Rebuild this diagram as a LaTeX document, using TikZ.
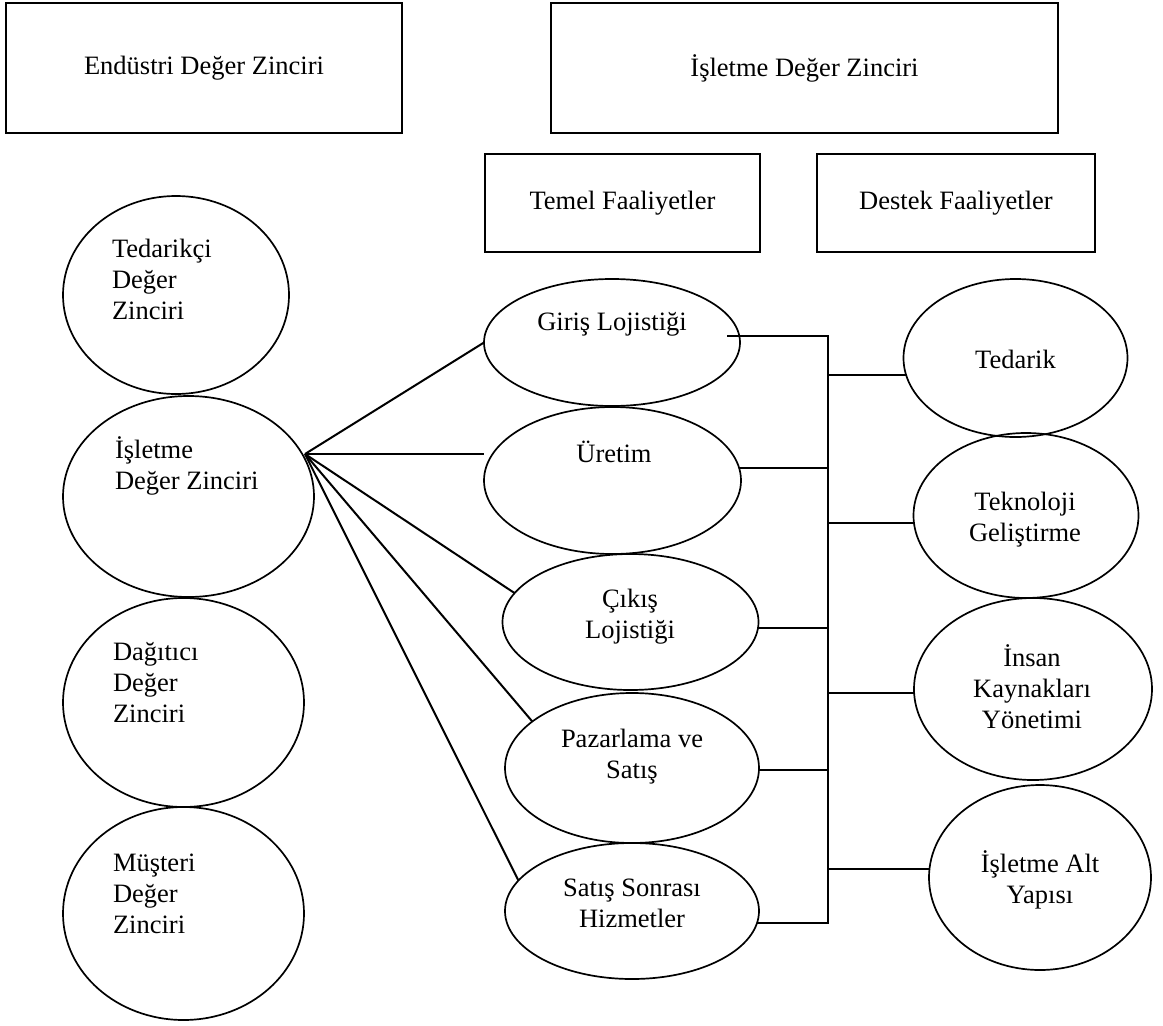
\documentclass[tikz,border=0pt]{standalone}
\usepackage{fontspec}
\setmainfont{Liberation Serif}
\usetikzlibrary{shapes.geometric}
\begin{document}
\begin{tikzpicture}[x=1pt,y=-1pt,
  ell/.style={draw, ellipse, inner sep=0pt, outer sep=0pt, line width=1.7pt},
  boxn/.style={draw, rectangle, inner sep=0pt, outer sep=0pt, line width=2pt, font=\fontsize{26.5}{31}\selectfont},
  txt/.style={inner sep=0pt, outer sep=0pt, font=\fontsize{26.5}{31}\selectfont},
  conn/.style={line width=2pt}]
\useasboundingbox[fill=white] (0,0) rectangle (1163,1026);

% top boxes
\node[boxn, minimum width=396pt, minimum height=130pt] (endbox) at (204,68) {Endüstri Değer Zinciri};
\node[boxn, minimum width=507pt, minimum height=130pt] (isbox) at (804.5,68) {İşletme Değer Zinciri};
\node[boxn, minimum width=275pt, minimum height=98pt] (temel) at (622.5,203) {Temel Faaliyetler};
\node[boxn, minimum width=278pt, minimum height=98pt] (destek) at (956,203) {Destek Faaliyetler};

% left ellipses
\node[ell, minimum width=226pt, minimum height=198pt] (ted) at (176,295) {};
\node[ell, minimum width=251pt, minimum height=201pt] (isv) at (188.5,496.5) {};
\node[ell, minimum width=241pt, minimum height=209pt] (dag) at (183.5,702.5) {};
\node[ell, minimum width=241pt, minimum height=213pt] (mus) at (183.5,913.5) {};
% (base anchor of a multi-line node = baseline of its last line)
\node[txt, anchor=base west, align=left] (tedt) at (112,319) {Tedarikçi\\Değer\\Zinciri};
\node[txt, anchor=base west, align=left] (isvt) at (115,489) {İşletme\\Değer Zinciri};
\node[txt, anchor=base west, align=left] (dagt) at (113,722) {Dağıtıcı\\Değer\\Zinciri};
\node[txt, anchor=base west, align=left] (must) at (113,933) {Müşteri\\Değer\\Zinciri};

% middle ellipses
\node[ell, minimum width=256pt, minimum height=127pt] (giris) at (612,342.5) {};
\node[ell, minimum width=257pt, minimum height=147pt] (uretim) at (612.5,480.5) {};
\node[ell, minimum width=256pt, minimum height=136pt] (cikis) at (630.5,622) {};
\node[ell, minimum width=254pt, minimum height=150pt] (pazar) at (632,768) {};
\node[ell, minimum width=254pt, minimum height=136pt] (satis) at (632,911) {};
\node[txt, anchor=base, align=center] (girist) at (612,330) {Giriş Lojistiği};
\node[txt, anchor=base, align=center] (uretimt) at (614,462) {Üretim};
\node[txt, anchor=base, align=center] (cikist) at (630,638) {Çıkış\\Lojistiği};
\node[txt, anchor=base, align=center] (pazart) at (632,778) {Pazarlama ve\\Satış};
\node[txt, anchor=base, align=center] (satist) at (632,927) {Satış Sonrası\\Hizmetler};

% right ellipses
\node[ell, minimum width=224pt, minimum height=158pt] (tedarik) at (1015.5,358) {};
\node[ell, minimum width=225pt, minimum height=165pt] (tekno) at (1026,515.5) {};
\node[ell, minimum width=238pt, minimum height=182pt] (insan) at (1033,689) {};
\node[ell, minimum width=222pt, minimum height=185pt] (altyapi) at (1040,877.5) {};
\node[txt, anchor=base, align=center] (tedarikt) at (1015.5,368) {Tedarik};
\node[txt, anchor=base, align=center] (teknot) at (1025,541) {Teknoloji\\Geliştirme};
\node[txt, anchor=base, align=center] (insant) at (1032,728) {İnsan\\Kaynakları\\Yönetimi};
\node[txt, anchor=base, align=center] (altyapit) at (1040,903) {İşletme Alt\\Yapısı};

% fan from İşletme Değer Zinciri
\coordinate (hub) at (305,454);
\draw[conn] (hub) -- (giris.west);
\draw[conn] (hub) -- (hub -| uretim.west);
\draw[conn] (hub) -- (cikis.166);
\draw[conn] (hub) -- (pazar.155);
\draw[conn] (hub) -- (satis.165);

% bus
\coordinate (bt) at (828,336);
\coordinate (bb) at (828,923);
\draw[conn, line cap=rect] (bt) -- (bb);
\coordinate (g1) at (727,336);
\coordinate (u1) at (739,468);
\coordinate (c1) at (758,628);
\coordinate (p1) at (759,770);
\coordinate (s1) at (757,923);
\draw[conn] (g1) -- (bt);
\draw[conn] (u1) -- (u1 -| bt);
\draw[conn] (c1) -- (c1 -| bt);
\draw[conn] (p1) -- (p1 -| bt);
\draw[conn] (s1) -- (bb);

\coordinate (r1) at (906,375);
\coordinate (r2) at (914,523);
\coordinate (r3) at (914,693);
\coordinate (r4) at (929,869);
\draw[conn] (r1 -| bt) -- (r1);
\draw[conn] (r2 -| bt) -- (r2);
\draw[conn] (r3 -| bt) -- (r3);
\draw[conn] (r4 -| bt) -- (r4);
\end{tikzpicture}
\end{document}
